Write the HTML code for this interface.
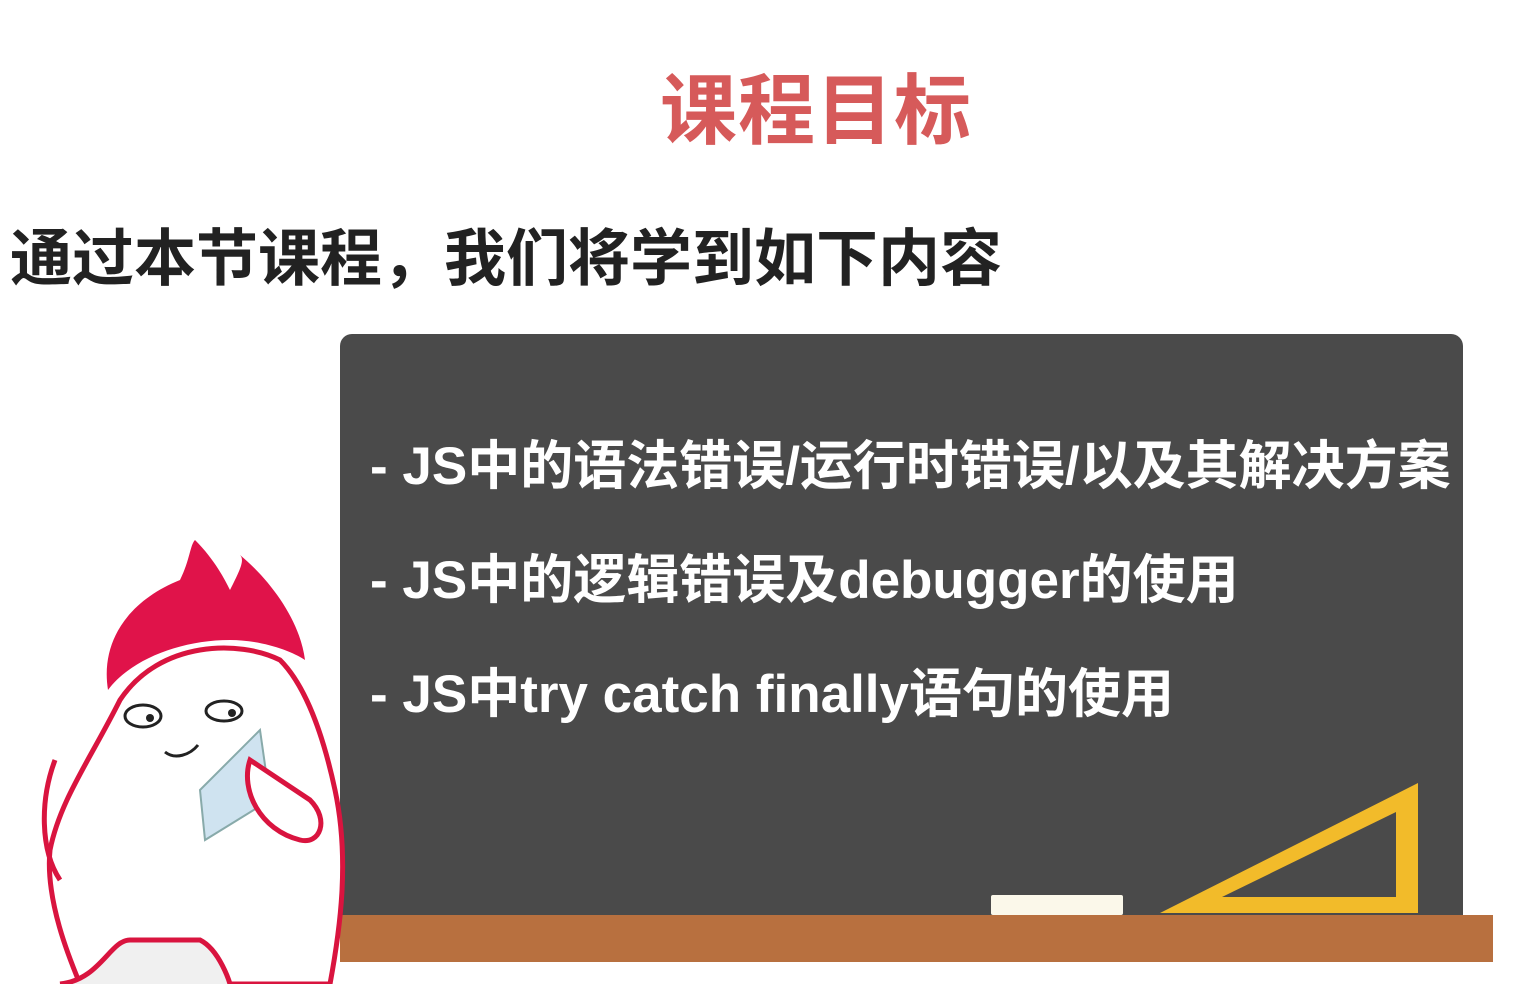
<!DOCTYPE html>
<html><head><meta charset="utf-8">
<style>
body{margin:0;width:1524px;height:984px;background:#fff;position:relative;overflow:hidden;font-family:"Liberation Sans","Noto Sans CJK SC",sans-serif}
.t{position:absolute;white-space:nowrap;font-weight:bold}
</style></head><body>
<div class="t" style="left:660px;top:50px;font-size:77px;color:#d65a5a;letter-spacing:1px">课程目标</div>
<div class="t" style="left:10px;top:208px;font-size:62px;color:#222">通过本节课程，我们将学到如下内容</div>
<div style="position:absolute;left:340px;top:334px;width:1123px;height:585px;background:#4a4a4a;border-radius:12px 12px 0 0"></div>
<div style="position:absolute;left:340px;top:915px;width:1153px;height:47px;background:#b8703f"></div>
<div style="position:absolute;left:991px;top:895px;width:132px;height:20px;background:#fbf8ea;border-radius:2px"></div>
<svg style="position:absolute;left:0;top:0" width="1524" height="984">
<polygon points="1160,913 1418,783 1418,913" fill="#f2bb2a"/>
<polygon points="1222,897 1396,812 1396,897" fill="#4a4a4a"/>
</svg>
<div class="t" style="left:370px;top:424px;font-size:53px;color:#fff">- JS中的语法错误/运行时错误/以及其解决方案</div>
<div class="t" style="left:370px;top:538px;font-size:53px;color:#fff">- JS中的逻辑错误及debugger的使用</div>
<div class="t" style="left:370px;top:652px;font-size:53px;color:#fff">- JS中try catch finally语句的使用</div>
<svg style="position:absolute;left:0;top:0" width="400" height="984">
<path d="M120,700 C90,760 60,800 50,850 C45,900 70,960 80,984 L330,984 C340,930 350,860 335,790 C320,720 300,680 280,660 C240,640 160,640 120,700 Z" fill="#fff" stroke="#d9143f" stroke-width="5"/>
<path d="M55,760 C40,800 40,850 60,880" fill="none" stroke="#d9143f" stroke-width="5"/>
<path d="M108,690 C100,640 130,600 180,580 C190,560 190,545 195,540 C215,560 225,580 230,590 C240,570 245,560 240,555 C270,580 300,620 305,660 C290,650 260,640 230,640 C180,640 130,660 108,690 Z" fill="#e0134a"/>
<ellipse cx="143" cy="716" rx="18" ry="11" fill="#fff" stroke="#222" stroke-width="3"/>
<ellipse cx="224" cy="711" rx="18" ry="10" fill="#fff" stroke="#222" stroke-width="3"/>
<circle cx="150" cy="718" r="4" fill="#222"/><circle cx="232" cy="713" r="4" fill="#222"/>
<path d="M165,752 C175,760 190,755 198,745" fill="none" stroke="#222" stroke-width="3"/>
<polygon points="200,790 260,730 270,800 205,840" fill="#cfe3f0" stroke="#8aa" stroke-width="2"/>
<path d="M250,760 C240,790 260,830 300,840 C320,845 330,820 310,800 Z" fill="#fff" stroke="#d9143f" stroke-width="5"/>
<path d="M60,984 C100,980 110,940 130,940 L200,940 C220,950 230,984 230,984" fill="#f0f0f0" stroke="#d9143f" stroke-width="5"/>
</svg>
</body></html>
